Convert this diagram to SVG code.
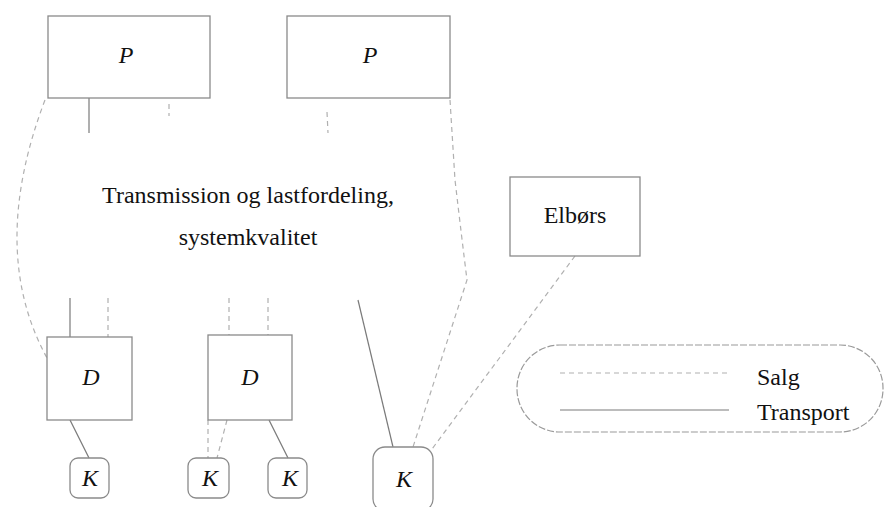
<svg xmlns="http://www.w3.org/2000/svg" width="885" height="507" viewBox="0 0 885 507">
  <style>
    .box { fill: none; stroke: #8a8a8a; stroke-width: 1.3; }
    .salg { fill: none; stroke: #b0b0b0; stroke-width: 1.2; stroke-dasharray: 5 4; }
    .transport { fill: none; stroke: #7a7a7a; stroke-width: 1.2; }
    .lbl { font-family: "Liberation Serif", "Times New Roman", serif; font-size: 24px; fill: #111; }
    .sym { font-family: "Liberation Serif", "Times New Roman", serif; font-size: 24px; font-style: italic; fill: #111; text-anchor: middle; }
    .legend { fill: none; stroke: #9a9a9a; stroke-width: 1.2; stroke-dasharray: 7 2; }
  </style>
  <rect width="885" height="507" fill="#ffffff"/>

  <!-- connectors -->
  <g id="connectors">
    <!-- sales path around the transmission area -->
    <path class="salg" d="M45,100 Q-12,250 47,358"/>
    <path class="salg" d="M450,100 L455,180 Q462,240 467,280 L413,447"/>
    <!-- stubs below producers -->
    <line class="transport" x1="89" y1="98" x2="89" y2="133"/>
    <line class="salg" x1="169" y1="104" x2="169" y2="116"/>
    <line class="salg" x1="327" y1="112" x2="328" y2="133"/>
    <!-- into distribution -->
    <line class="transport" x1="70" y1="298" x2="70" y2="337"/>
    <line class="salg" x1="108" y1="298" x2="108" y2="337"/>
    <line class="salg" x1="229" y1="298" x2="229" y2="335"/>
    <line class="salg" x1="268" y1="298" x2="268" y2="335"/>
    <!-- distribution to customers -->
    <line class="transport" x1="70" y1="420" x2="89" y2="458"/>
    <line class="salg" x1="208" y1="420" x2="208" y2="458"/>
    <line class="salg" x1="227" y1="420" x2="217" y2="458"/>
    <line class="transport" x1="269" y1="420" x2="288" y2="458"/>
    <!-- direct customer -->
    <line class="transport" x1="358" y1="300" x2="393" y2="447"/>
    <line class="salg" x1="575" y1="256" x2="432" y2="449"/>
  </g>

  <g id="p1">
    <rect class="box" x="48" y="16" width="162" height="82"/>
    <text class="sym" x="126" y="63">P</text>
  </g>
  <g id="p2">
    <rect class="box" x="287" y="16" width="163" height="82"/>
    <text class="sym" x="370" y="63">P</text>
  </g>

  <g id="transmission">
    <text class="lbl" x="248" y="203" text-anchor="middle">Transmission og lastfordeling,</text>
    <text class="lbl" x="248" y="245" text-anchor="middle">systemkvalitet</text>
  </g>

  <g id="elbors">
    <rect class="box" x="510" y="177" width="130" height="79"/>
    <text class="lbl" x="575" y="223" text-anchor="middle">Elbørs</text>
  </g>

  <g id="d1">
    <rect class="box" x="47" y="337" width="85" height="83"/>
    <text class="sym" x="91" y="385">D</text>
  </g>
  <g id="d2">
    <rect class="box" x="208" y="335" width="84" height="85"/>
    <text class="sym" x="250" y="385">D</text>
  </g>

  <g id="k1">
    <rect class="box" x="70" y="458" width="39" height="40" rx="8"/>
    <text class="sym" x="90" y="486">K</text>
  </g>
  <g id="k2">
    <rect class="box" x="188" y="458" width="41" height="40" rx="8"/>
    <text class="sym" x="210" y="486">K</text>
  </g>
  <g id="k3">
    <rect class="box" x="268" y="458" width="39" height="40" rx="8"/>
    <text class="sym" x="290" y="486">K</text>
  </g>
  <g id="k4">
    <rect class="box" x="373" y="447" width="60" height="64" rx="12"/>
    <text class="sym" x="404" y="487">K</text>
  </g>

  <g id="legend">
    <rect class="legend" x="517" y="345" width="366" height="87" rx="43"/>
    <line class="salg" x1="560" y1="373" x2="727" y2="373"/>
    <line class="transport" x1="560" y1="410" x2="729" y2="410"/>
    <text class="lbl" x="757" y="385">Salg</text>
    <text class="lbl" x="757" y="420">Transport</text>
  </g>
</svg>
